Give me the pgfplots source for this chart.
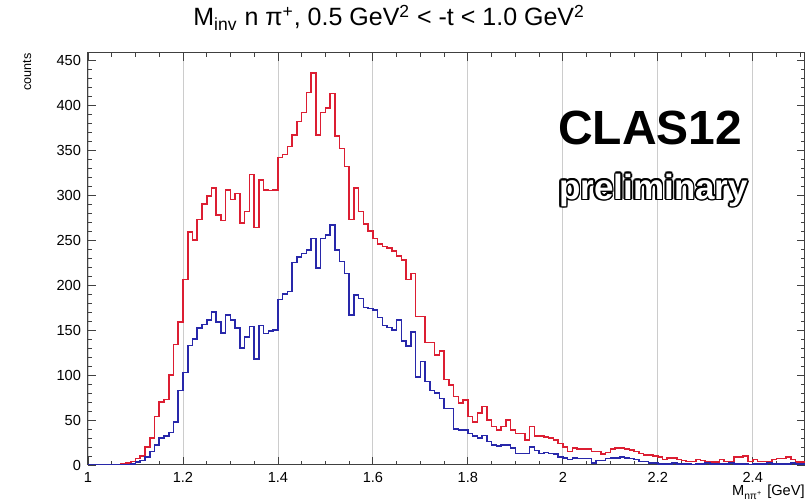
\documentclass[border=0pt]{standalone}
\usepackage{fontspec}
\setmainfont{Liberation Sans}
\usepackage{pgfplots}
\pgfplotsset{compat=1.18}
\usepackage{pgfplotstable}

\definecolor{histred}{RGB}{220,30,50}
\definecolor{histblue}{RGB}{40,40,170}

% bin left edges (0.01 GeV bins), counts for the two histograms
\pgfplotstableread{
x red blue
1.00 0 0
1.01 0 0
1.02 0 0
1.03 0 0
1.04 0 0
1.05 0 0
1.06 0 0
1.07 1 0
1.08 2 0
1.09 4 1
1.10 7 3
1.11 10 5
1.12 20 9
1.13 30 15
1.14 54 22
1.15 70 30
1.16 73 32
1.17 100 36
1.18 134 48
1.19 159 83
1.20 206 103
1.21 259 133
1.22 250 140
1.23 273 152
1.24 290 156
1.25 299 161
1.26 308 170
1.27 278 159
1.28 272 147
1.29 306 167
1.30 295 161
1.31 302 152
1.32 269 130
1.33 282 142
1.34 323 154
1.35 264 118
1.36 317 155
1.37 306 146
1.38 305 149
1.39 306 150
1.40 342 184
1.41 345 190
1.42 354 193
1.43 367 225
1.44 382 231
1.45 392 235
1.46 414 239
1.47 436 252
1.48 367 219
1.49 392 252
1.50 397 256
1.51 413 267
1.52 366 239
1.53 352 226
1.54 332 213
1.55 273 167
1.56 308 189
1.57 282 185
1.58 268 175
1.59 260 174
1.60 252 172
1.61 246 164
1.62 243 155
1.63 241 153
1.64 238 150
1.65 232 161
1.66 228 138
1.67 206 132
1.68 213 148
1.69 165 98
1.70 165 115
1.71 136 93
1.72 136 83
1.73 122 80
1.74 127 74
1.75 95 63
1.76 89 63
1.77 76 40
1.78 69 39
1.79 72 39
1.80 54 35
1.81 48 32
1.82 58 30
1.83 65 33
1.84 50 26
1.85 43 22
1.86 39 21
1.87 43 22
1.88 50 22
1.89 39 19
1.90 35 13
1.91 35 13
1.92 28 13
1.93 43 20
1.94 32 16
1.95 32 13
1.96 31 14
1.97 30 13
1.98 28 12
1.99 24 9
2.00 20 8
2.01 15 6
2.02 19 8
2.03 18 7
2.04 18 7
2.05 18 7
2.06 15 2
2.07 15 5
2.08 12 5
2.09 14 7
2.10 18 8
2.11 19 8
2.12 19 9
2.13 18 8
2.14 17 7
2.15 15 6
2.16 13 4
2.17 11 4
2.18 11 2
2.19 10 2
2.20 9 1
2.21 6 1
2.22 8 1
2.23 8 2
2.24 6 1
2.25 5 1
2.26 4 1
2.27 4 0
2.28 6 1
2.29 5 1
2.30 3 2
2.31 3 1
2.32 3 1
2.33 6 1
2.34 4 1
2.35 4 2
2.36 9 1
2.37 9 1
2.38 10 1
2.39 4 0
2.40 6 1
2.41 4 1
2.42 4 1
2.43 4 2
2.44 6 1
2.45 7 1
2.46 7 1
2.47 9 1
2.48 6 2
2.49 3 1
2.50 3 1
2.51 3 1
}\hist

\begin{document}
\begin{tikzpicture}
\begin{axis}[
  scale only axis,
  width=358.5pt, height=206pt,
  xmin=1, xmax=2.51, ymin=0, ymax=458,
  xtick={1,1.2,1.4,1.6,1.8,2,2.2,2.4},
  minor xtick={1.05,1.1,1.15,1.25,1.3,1.35,1.45,1.5,1.55,1.65,1.7,1.75,1.85,1.9,1.95,2.05,2.1,2.15,2.25,2.3,2.35,2.45,2.5},
  ytick={0,50,100,150,200,250,300,350,400,450},
  minor y tick num=4,
  tick align=inside, tick pos=both,
  major tick length=4pt, minor tick length=2pt,
  xmajorgrids,
  major x grid style={gray!40, line width=0.4pt},
  axis line style={black!75, line width=0.5pt},
  every tick/.style={black!75, line width=0.4pt},
  ticklabel style={font=\fontsize{7.3}{8.5}\selectfont},
  /pgf/number format/assume math mode=true,
]
\addplot[const plot mark left, color=histred, line width=0.8pt] table[x=x, y=red] {\hist};
\addplot[const plot mark left, color=histblue, line width=0.8pt] table[x=x, y=blue] {\hist};
\coordinate (bl) at (rel axis cs:0,0);
\coordinate (tr) at (rel axis cs:1,1);
\coordinate (tl) at (rel axis cs:0,1);
\coordinate (br) at (rel axis cs:1,0);
\coordinate (ttl) at (rel axis cs:0.42,1);
\coordinate (clas) at (rel axis cs:0.784,0.818);
\coordinate (prel) at (rel axis cs:0.789,0.667);
\end{axis}

% title and axis labels
\node[anchor=base, font=\fontsize{12.5}{14}\selectfont] at ([yshift=13.5pt]ttl)
  {M\textsubscript{inv} n π\textsuperscript{+}, 0.5 GeV\textsuperscript{2} < -t < 1.0 GeV\textsuperscript{2}};
\node[anchor=north east, inner sep=0pt, font=\fontsize{7.3}{8.5}\selectfont] at ([yshift=-10pt]br)
  {M\textsubscript{nπ\textsuperscript{+}} [GeV]};
\node[rotate=90, anchor=east, inner sep=0pt, font=\fontsize{6.3}{7.5}\selectfont] at ([xshift=-30.5pt]tl) {counts};

% watermark
\node[font=\fontsize{24}{28}\selectfont\bfseries] at (clas) {CLAS12};
\foreach \a in {0,30,...,330}
  \node[font=\fontsize{17.5}{20}\selectfont\bfseries, text=black] at ([shift={(\a:0.8pt)}]prel) {preliminary};
\node[font=\fontsize{17.5}{20}\selectfont\bfseries, text=white] at (prel) {preliminary};

\pgfresetboundingbox
\path[use as bounding box] ([xshift=-44pt,yshift=-19pt]bl) rectangle ([xshift=3pt,yshift=26.5pt]tr);
\end{tikzpicture}
\end{document}
